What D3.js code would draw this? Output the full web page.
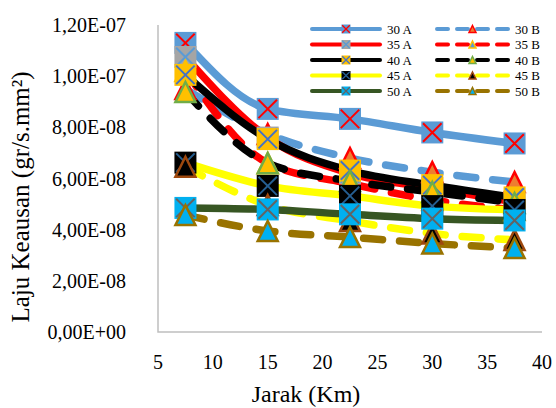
<!DOCTYPE html>
<meta charset="utf-8">
<style>
  body { margin: 0; background: #fff; }
  text { font-family: "Liberation Serif", "Times New Roman", serif; fill: #000; }
  .axis-line { stroke: #bfbfbf; stroke-width: 1.5px; fill: none; }
</style>
<body>
<script src="https://d3js.org/d3.v7.min.js"></script>
<script>

  // distance (km) for every measured point
  var jarak = [7.5, 15, 22.5, 30, 37.5];

  // wear rate, gr/s.mm2
  var s30A = [1.13e-7, 8.72e-8, 8.33e-8, 7.80e-8, 7.37e-8];
  var s30B = [9.5e-8, 7.74e-8, 6.80e-8, 6.25e-8, 5.86e-8];
  var s35A = [1.075e-7, 7.6e-8, 6.2e-8, 5.63e-8, 5.08e-8];
  var s35B = [1.02e-7, 6.6e-8, 5.8e-8, 5.16e-8, 4.77e-8];
  var s40A = [1.005e-7, 7.54e-8, 6.31e-8, 5.74e-8, 5.26e-8];
  var s40B = [9.38e-8, 6.6e-8, 5.9e-8, 5.47e-8, 5.04e-8];
  var s45A = [6.62e-8, 5.71e-8, 5.32e-8, 4.92e-8, 4.77e-8];
  var s45B = [6.46e-8, 4.96e-8, 4.34e-8, 3.85e-8, 3.6e-8];
  var s50A = [4.85e-8, 4.79e-8, 4.6e-8, 4.43e-8, 4.36e-8];
  var s50B = [4.57e-8, 3.95e-8, 3.71e-8, 3.46e-8, 3.28e-8];

  var seriesNames = ["30 A", "30 B", "35 A", "35 B", "40 A", "40 B", "45 A", "45 B", "50 A", "50 B"];
  var seriesValues = [s30A, s30B, s35A, s35B, s40A, s40B, s45A, s45B, s50A, s50B];

  var yTicks = [0, 2e-8, 4e-8, 6e-8, 8e-8, 1e-7, 1.2e-7];
  var yTickLabels = ["0,00E+00", "2,00E-08", "4,00E-08", "6,00E-08", "8,00E-08", "1,00E-07", "1,20E-07"];
  var xTicks = [5, 10, 15, 20, 25, 30, 35, 40];

  // look of each series: line colour, dashed or not, marker
  var styles = [
    { line: "#5B9BD5", dash: false, shape: "sq", fill: "#5B9BD5", mark: "#FF0000" },
    { line: "#5B9BD5", dash: true, shape: "tri", fill: "#ED7D31", mark: "#FF0000" },
    { line: "#FF0000", dash: false, shape: "sq", fill: "#A5A5A5", mark: "#5B9BD5" },
    { line: "#FF0000", dash: true, shape: "tri", fill: "#5B9BD5", mark: "#FFC000" },
    { line: "#000000", dash: false, shape: "sq", fill: "#FFC000", mark: "#4472C4" },
    { line: "#000000", dash: true, shape: "tri", fill: "#FFC000", mark: "#70AD47" },
    { line: "#FFFF00", dash: false, shape: "sq", fill: "#000000", mark: "#255E91" },
    { line: "#FFFF00", dash: true, shape: "tri", fill: "#000000", mark: "#9E480E" },
    { line: "#375623", dash: false, shape: "sq", fill: "#00B0F0", mark: "#636363" },
    { line: "#997300", dash: true, shape: "tri", fill: "#00B0F0", mark: "#997300" }
  ];

  var width = 556, height = 408;

  var x = d3.scaleLinear().domain([5, 40]).range([158, 542]);
  var y = d3.scaleLinear().domain([0, 1.2e-7]).range([332, 25]);

  var svg = d3.select("body").append("svg")
    .attr("width", width)
    .attr("height", height);

  // axes (no gridlines, no tick marks)
  svg.append("path").attr("class", "axis-line")
    .attr("d", "M" + x(5) + "," + y(1.2e-7) + "V" + y(0) + "H" + x(40));

  svg.selectAll(".ytick")
    .data(yTicks)
    .enter().append("text")
    .attr("class", "ytick")
    .attr("x", 126)
    .attr("y", function (d) { return y(d); })
    .attr("dy", "0.35em")
    .attr("text-anchor", "end")
    .style("font-size", "20px")
    .text(function (d, i) { return yTickLabels[i]; });

  svg.selectAll(".xtick")
    .data(xTicks)
    .enter().append("text")
    .attr("class", "xtick")
    .attr("x", function (d) { return x(d); })
    .attr("y", 369)
    .attr("text-anchor", "middle")
    .style("font-size", "20px")
    .text(function (d) { return d; });

  svg.append("text")
    .attr("x", 306)
    .attr("y", 402)
    .attr("text-anchor", "middle")
    .style("font-size", "24px")
    .text("Jarak (Km)");

  svg.append("text")
    .attr("transform", "translate(29,197) rotate(-90)")
    .attr("text-anchor", "middle")
    .style("font-size", "25px")
    .text("Laju Keausan  (gr/s.mm²)");

  // draws one marker centred on 0,0
  function marker(g, st, size) {
    var h = size / 2;
    if (st.shape === "sq") {
      g.append("rect")
        .attr("x", -h).attr("y", -h)
        .attr("width", size).attr("height", size)
        .attr("fill", st.fill);
      var k = h - size * 0.08;
      g.append("path")
        .attr("d", "M" + -k + "," + -k + "L" + k + "," + k + "M" + k + "," + -k + "L" + -k + "," + k)
        .attr("stroke", st.mark)
        .attr("stroke-width", size > 12 ? 2 : 1.3)
        .attr("fill", "none");
    } else {
      var t = h - 1;
      g.append("path")
        .attr("d", "M0," + -t + "L" + t + "," + t + "L" + -t + "," + t + "Z")
        .attr("fill", st.fill)
        .attr("stroke", st.mark)
        .attr("stroke-width", size > 12 ? 2.5 : 1.5)
        .attr("stroke-linejoin", "miter");
    }
  }

  var line = d3.line()
    .x(function (d, i) { return x(jarak[i]); })
    .y(function (d) { return y(d); })
    .curve(d3.curveMonotoneX);

  var plot = svg.append("g");

  // all lines first
  seriesValues.forEach(function (vals, i) {
    var st = styles[i];
    plot.append("path")
      .attr("d", line(vals))
      .attr("fill", "none")
      .attr("stroke", st.line)
      .attr("stroke-width", 7.5)
      .attr("stroke-linecap", "round")
      .attr("stroke-linejoin", "round")
      .attr("stroke-dasharray", st.dash ? "19,17" : null);
  });

  // then the markers, in series order
  seriesValues.forEach(function (vals, i) {
    vals.forEach(function (v, j) {
      var g = plot.append("g")
        .attr("transform", "translate(" + x(jarak[j]) + "," + y(v) + ")");
      marker(g, styles[i], 22);
    });
  });

  // legend, two columns, row by row
  var legend = svg.append("g");
  var colLine = [[312, 380], [437, 508]];
  var rowY = [29, 44.5, 60, 75.5, 91];

  seriesNames.forEach(function (name, i) {
    var st = styles[i];
    var c = i % 2, r = Math.floor(i / 2);
    var x0 = colLine[c][0], x1 = colLine[c][1], yy = rowY[r];
    legend.append("line")
      .attr("x1", x0).attr("x2", x1)
      .attr("y1", yy).attr("y2", yy)
      .attr("stroke", st.line)
      .attr("stroke-width", 4)
      .attr("stroke-linecap", "round")
      .attr("stroke-dasharray", st.dash ? "11,9" : null);
    var g = legend.append("g")
      .attr("transform", "translate(" + (x0 + x1) / 2 + "," + yy + ")");
    marker(g, st, 9);
    legend.append("text")
      .attr("x", x1 + 7)
      .attr("y", yy)
      .attr("dy", "0.35em")
      .style("font-size", "13px")
      .text(name);
  });

</script>
</body>
